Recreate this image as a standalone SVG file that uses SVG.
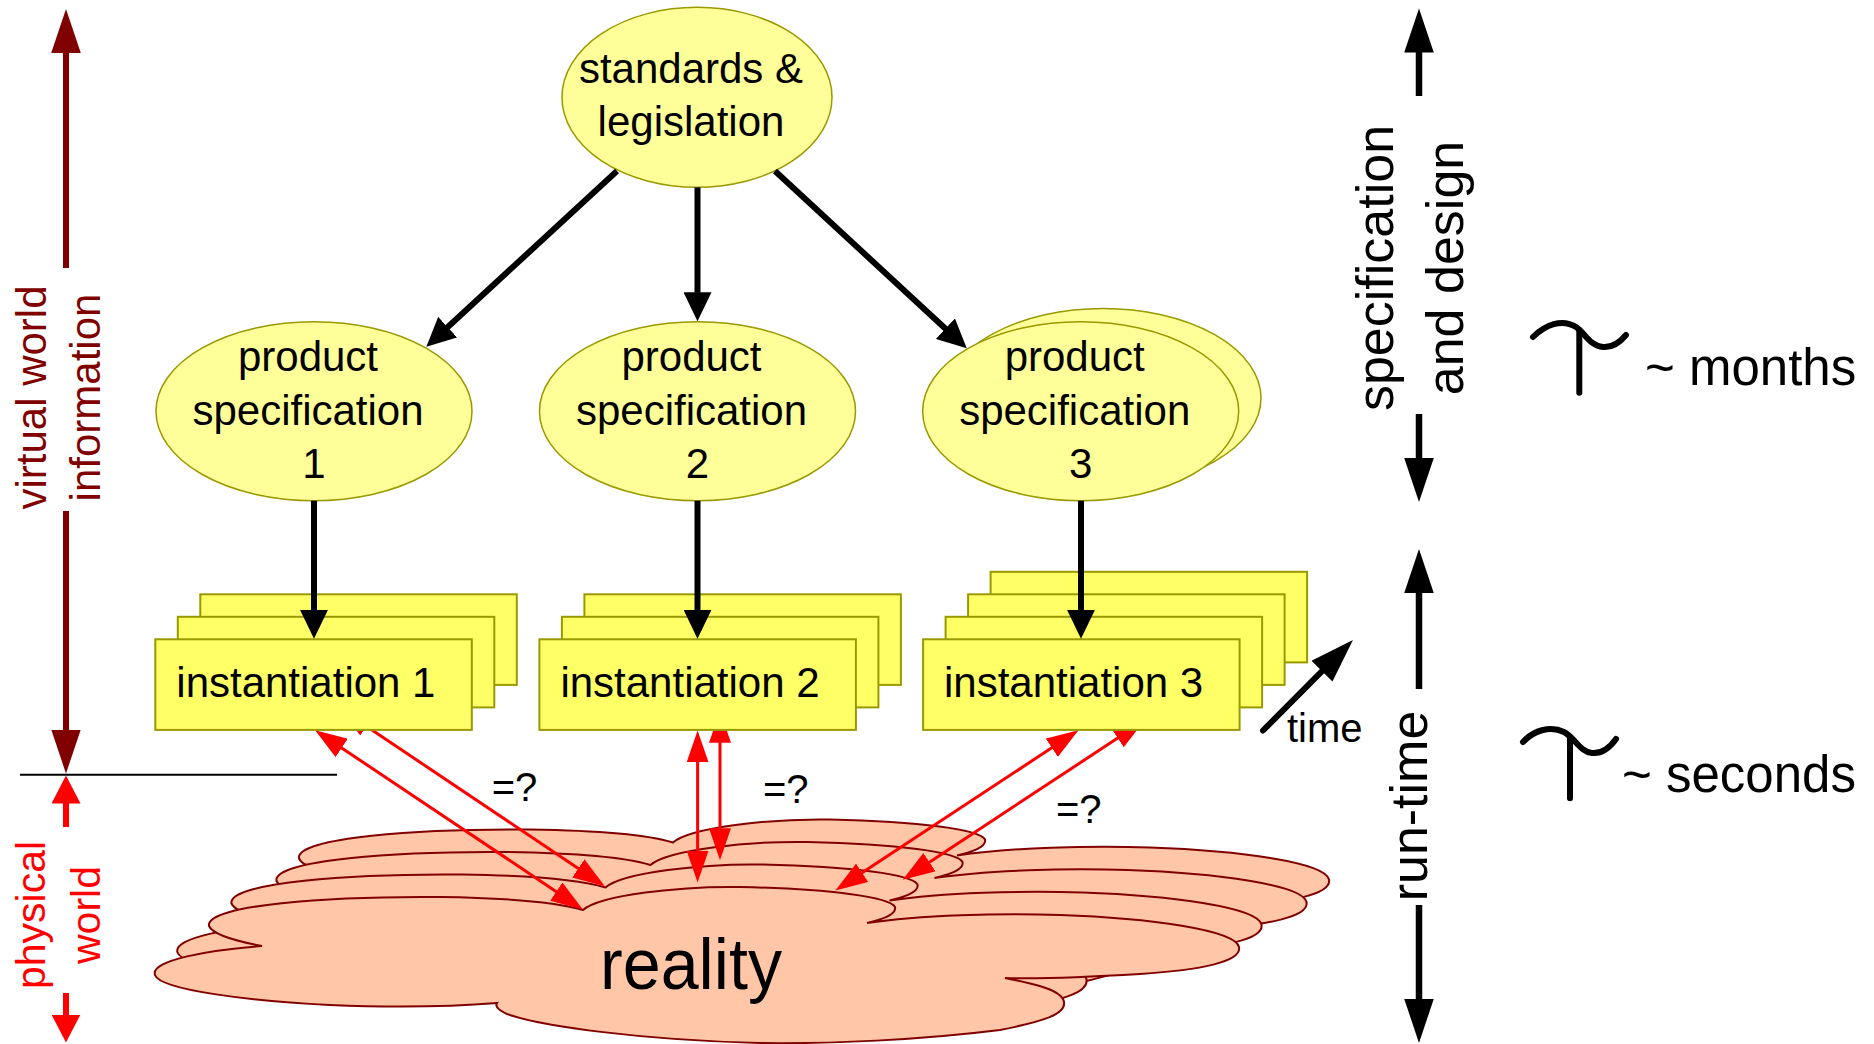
<svg xmlns="http://www.w3.org/2000/svg" width="1874" height="1044" viewBox="0 0 1874 1044">
<style>
text{font-family:'Liberation Sans',Arial,sans-serif;fill:#000;}
.t42{font-size:42px;}
.ell{fill:#ffff99;stroke:#999900;stroke-width:1.5;}
.box{fill:#ffff66;stroke:#999900;stroke-width:2;}
.cloud{fill:#ffc6a8;stroke:#800000;stroke-width:2;}
.cb{stroke:#000;stroke-width:6;fill:none;}
.cr{stroke:#ff0000;stroke-width:3;fill:none;}
</style>
<defs>
<marker id="ab" markerUnits="userSpaceOnUse" markerWidth="30" markerHeight="28" refX="0.5" refY="14" orient="auto"><path d="M0,0 L29,14 L0,28 Z" fill="#000"/></marker>
<marker id="abL" markerUnits="userSpaceOnUse" markerWidth="45" markerHeight="30" refX="0.5" refY="14.8" orient="auto"><path d="M0,0 L44,14.8 L0,29.6 Z" fill="#000"/></marker>
<marker id="adr" markerUnits="userSpaceOnUse" markerWidth="45" markerHeight="30" refX="0.5" refY="14.8" orient="auto"><path d="M0,0 L44,14.8 L0,29.6 Z" fill="#800000"/></marker>
<marker id="ar" markerUnits="userSpaceOnUse" markerWidth="29" markerHeight="29" refX="0.5" refY="14.5" orient="auto"><path d="M0,0 L28,14.5 L0,29 Z" fill="#ff0000"/></marker>
<marker id="art" markerUnits="userSpaceOnUse" markerWidth="33" markerHeight="22" refX="0.5" refY="11" orient="auto-start-reverse"><path d="M0,0 L32,11 L0,22 Z" fill="#ff0000"/></marker>
<path id="cloudShape" d="M209,926 C205,905 330,896 440,897 C510,898 560,903 583,910 C600,895 680,886 740,887 C830,889 890,897 895,907 C897,915 880,920 867,923 C920,915 1000,913 1060,915 C1150,918 1235,930 1239,947 C1242,962 1200,970 1140,974 C1090,977 1040,979 1005,978 C1035,984 1062,990 1064,1002 C1066,1014 1045,1021 1000,1030 C920,1040 830,1044 760,1043 C640,1040 540,1026 507,1014 C498,1010 495,1006 497,1003 C460,1006 400,1008 330,1005 C250,1001 160,990 155,975 C150,960 210,950 262,946 C230,940 212,933 209,926 Z"/>
</defs>
<rect width="1874" height="1044" fill="#fff"/>

<g id="axis-virtual">
<path d="M66,268 L66,52.4" stroke="#800000" stroke-width="6" marker-end="url(#adr)"/>
<path d="M66,511 L66,730" stroke="#800000" stroke-width="6" marker-end="url(#adr)"/>
<text transform="translate(46,397.5) rotate(-90)" text-anchor="middle" font-size="42" style="fill:#800000">virtual world</text>
<text transform="translate(99.5,397.5) rotate(-90)" text-anchor="middle" font-size="42" style="fill:#800000">information</text>
</g>
<line id="divider" x1="20" y1="774.7" x2="337" y2="774.7" stroke="#000" stroke-width="2"/>
<g id="axis-physical">
<path d="M66,827 L66,803" stroke="#ff0000" stroke-width="6" marker-end="url(#ar)"/>
<path d="M66,993 L66,1015" stroke="#ff0000" stroke-width="6" marker-end="url(#ar)"/>
<text transform="translate(45,915) rotate(-90)" text-anchor="middle" font-size="41" style="fill:#ff0000">physical</text>
<text transform="translate(100,915) rotate(-90)" text-anchor="middle" font-size="41" style="fill:#ff0000">world</text>
</g>

<g id="axis-spec">
<path d="M1419,96 L1419,52" stroke="#000" stroke-width="6.5" marker-end="url(#abL)"/>
<path d="M1419,414 L1419,458.6" stroke="#000" stroke-width="6.5" marker-end="url(#abL)"/>
<text transform="translate(1393,268) rotate(-90)" text-anchor="middle" font-size="52">specification</text>
<text transform="translate(1463,268) rotate(-90)" text-anchor="middle" font-size="52">and design</text>
</g>
<g id="axis-runtime">
<path d="M1419,689 L1419,592.6" stroke="#000" stroke-width="6.5" marker-end="url(#abL)"/>
<path d="M1419,905 L1419,999.4" stroke="#000" stroke-width="6.5" marker-end="url(#abL)"/>
<text transform="translate(1427,806) rotate(-90)" text-anchor="middle" font-size="52">run-time</text>
</g>

<g id="tau-months">
<path d="M1533,337 C1545,325 1562,318 1576,327 C1585,333 1590,346 1603,347 C1614,348 1621,341 1626,335" fill="none" stroke="#000" stroke-width="6" stroke-linecap="round"/>
<path d="M1579.3,330 L1579.3,392.7" stroke="#000" stroke-width="6" stroke-linecap="round"/>
<text x="1645" y="385" font-size="51">~ months</text>
</g>
<g id="tau-seconds">
<path d="M1523,742 C1533,731 1550,725 1564,732 C1574,737 1580,752 1592,753 C1603,754 1611,746 1616,739" fill="none" stroke="#000" stroke-width="6" stroke-linecap="round"/>
<path d="M1570,737 L1570,798.3" stroke="#000" stroke-width="6" stroke-linecap="round"/>
<text x="1622" y="791.5" font-size="51">~ seconds</text>
</g>

<g id="reality">
<use href="#cloudShape" class="cloud" transform="translate(90,-67.5)"/>
<use href="#cloudShape" class="cloud" transform="translate(67.5,-45)"/>
<use href="#cloudShape" class="cloud" transform="translate(22.5,-22.5)"/>
<use href="#cloudShape" class="cloud"/>
<text x="600" y="989" font-size="72" textLength="182" lengthAdjust="spacingAndGlyphs">reality</text>
</g>

<g id="connectors-physical">
<path class="cr" d="M341.3,747.7 L556.7,891.9" marker-start="url(#art)" marker-end="url(#art)"/>
<path class="cr" d="M366,726 L578.7,868.7" marker-start="url(#art)" marker-end="url(#art)"/>
<path class="cr" d="M697.6,761.9 L697.6,851" marker-start="url(#art)" marker-end="url(#art)"/>
<path class="cr" d="M720,742.2 L720,828.7" marker-start="url(#art)" marker-end="url(#art)"/>
<path class="cr" d="M1052.2,747.5 L861.7,873.1" marker-start="url(#art)" marker-end="url(#art)"/>
<path class="cr" d="M1118.1,737.8 L929,862.4" marker-start="url(#art)" marker-end="url(#art)"/>
<text x="491.7" y="801.3" font-size="40">=?</text>
<text x="763" y="803" font-size="40">=?</text>
<text x="1056" y="823" font-size="40">=?</text>
</g>

<g id="standards">
<ellipse class="ell" cx="697" cy="97.3" rx="135" ry="90"/>
<text class="t42" x="691" y="83" text-anchor="middle">standards &amp;</text>
<text class="t42" x="691" y="136" text-anchor="middle">legislation</text>
</g>
<g id="spec1">
<ellipse class="ell" cx="314" cy="411.2" rx="158" ry="89.5"/>
<text class="t42" x="308" y="371.4" text-anchor="middle">product</text>
<text class="t42" x="308" y="424.5" text-anchor="middle">specification</text>
<text class="t42" x="314" y="477.5" text-anchor="middle">1</text>
</g>
<g id="spec2">
<ellipse class="ell" cx="697.5" cy="411.2" rx="158" ry="89.5"/>
<text class="t42" x="691.5" y="371.4" text-anchor="middle">product</text>
<text class="t42" x="691.5" y="424.5" text-anchor="middle">specification</text>
<text class="t42" x="697.5" y="477.5" text-anchor="middle">2</text>
</g>
<g id="spec3">
<ellipse class="ell" cx="1103" cy="398" rx="158" ry="89.5"/>
<ellipse class="ell" cx="1080.7" cy="411.2" rx="158" ry="89.5"/>
<text class="t42" x="1074.7" y="371.4" text-anchor="middle">product</text>
<text class="t42" x="1074.7" y="424.5" text-anchor="middle">specification</text>
<text class="t42" x="1080.7" y="477.5" text-anchor="middle">3</text>
</g>

<g id="inst1">
<rect class="box" x="200.3" y="594.3" width="316.5" height="90.6"/>
<rect class="box" x="177.8" y="616.8" width="316.5" height="90.6"/>
<rect class="box" x="155.3" y="639.3" width="316.5" height="90.6"/>
<text class="t42" x="176.3" y="697">instantiation 1</text>
</g>
<g id="inst2">
<rect class="box" x="584.4" y="594.3" width="316.5" height="90.6"/>
<rect class="box" x="561.9" y="616.8" width="316.5" height="90.6"/>
<rect class="box" x="539.4" y="639.3" width="316.5" height="90.6"/>
<text class="t42" x="560.4" y="697">instantiation 2</text>
</g>
<g id="inst3">
<rect class="box" x="990.6" y="571.8" width="316.5" height="90.6"/>
<rect class="box" x="968.1" y="594.3" width="316.5" height="90.6"/>
<rect class="box" x="945.6" y="616.8" width="316.5" height="90.6"/>
<rect class="box" x="923.1" y="639.3" width="316.5" height="90.6"/>
<text class="t42" x="944" y="697">instantiation 3</text>
</g>

<g id="connectors">
<path class="cb" d="M617,171 L447.3,327.5" marker-end="url(#ab)"/>
<path class="cb" d="M697.5,187.4 L697.5,292.7" marker-end="url(#ab)"/>
<path class="cb" d="M775,171 L945.8,329" marker-end="url(#ab)"/>
<path class="cb" d="M314,500.7 L314,610.3" marker-end="url(#ab)"/>
<path class="cb" d="M697.5,500.7 L697.5,610.3" marker-end="url(#ab)"/>
<path class="cb" d="M1081,500.7 L1081,610.3" marker-end="url(#ab)"/>
</g>

<g id="time">
<path d="M1263,730.5 L1322.3,670.8" stroke="#000" stroke-width="6" stroke-linecap="round" marker-end="url(#abL)"/>
<text x="1287" y="742" font-size="40">time</text>
</g>
</svg>
